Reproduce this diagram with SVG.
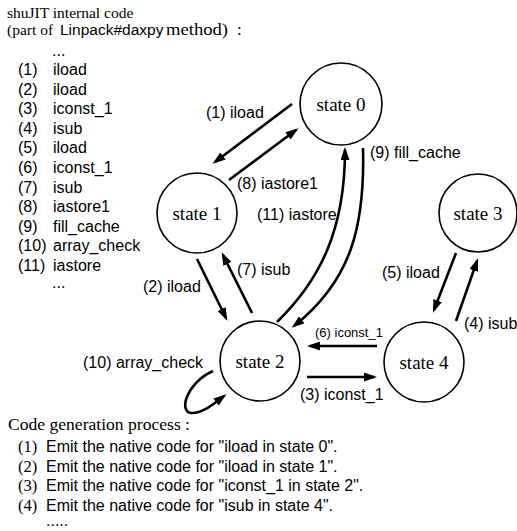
<svg xmlns="http://www.w3.org/2000/svg" width="517" height="531" viewBox="0 0 517 531">
  <style>
    .serif { font-family: "Liberation Serif", "Times New Roman", serif; fill: #000; }
    .sans { font-family: "Liberation Sans", Arial, sans-serif; fill: #000; }
    .lbl { font-size: 16px; }
    .small { font-size: 13px; }
    .node circle { fill: #fff; stroke: #000; stroke-width: 1.6; }
    .node text { font-size: 19px; text-anchor: middle; }
    .edge { fill: none; stroke: #000; stroke-width: 2.6; marker-end: url(#arrow); }
  </style>
  <defs>
    <marker id="arrow" markerUnits="userSpaceOnUse" markerWidth="14" markerHeight="10" refX="10" refY="4.5" orient="auto">
      <path d="M0,0 L13,4.5 L0,9 z" fill="#000"/>
    </marker>
  </defs>

  <rect width="517" height="531" fill="#fff"/>

  <!-- header -->
  <text class="serif" x="7" y="18" font-size="15.5">shuJIT internal code</text>
  <text class="serif" x="7" y="35" font-size="15.5">(part of <tspan class="sans" x="60">Linpack#daxpy</tspan><tspan x="166" font-size="17" textLength="62" lengthAdjust="spacingAndGlyphs">method)</tspan><tspan x="237" font-size="17">:</tspan></text>

  <!-- instruction listing -->
  <g class="sans lbl">
    <text x="52" y="56">...</text>
    <text y="75"><tspan x="18">(1)</tspan><tspan x="53">iload</tspan></text>
    <text y="94.6"><tspan x="18">(2)</tspan><tspan x="53">iload</tspan></text>
    <text y="114.2"><tspan x="18">(3)</tspan><tspan x="53">iconst_1</tspan></text>
    <text y="133.8"><tspan x="18">(4)</tspan><tspan x="53">isub</tspan></text>
    <text y="153.4"><tspan x="18">(5)</tspan><tspan x="53">iload</tspan></text>
    <text y="173"><tspan x="18">(6)</tspan><tspan x="53">iconst_1</tspan></text>
    <text y="192.6"><tspan x="18">(7)</tspan><tspan x="53">isub</tspan></text>
    <text y="212.2"><tspan x="18">(8)</tspan><tspan x="53">iastore1</tspan></text>
    <text y="231.8"><tspan x="18">(9)</tspan><tspan x="53">fill_cache</tspan></text>
    <text y="251.4"><tspan x="18">(10)</tspan><tspan x="53">array_check</tspan></text>
    <text y="271"><tspan x="18">(11)</tspan><tspan x="53">iastore</tspan></text>
    <text x="52" y="288">...</text>
  </g>

  <!-- connectors -->
  <g id="edges">
    <line class="edge" x1="292" y1="104" x2="215" y2="162"/>
    <line class="edge" x1="229" y1="180" x2="296" y2="130"/>
    <line class="edge" x1="197" y1="259" x2="226" y2="318"/>
    <line class="edge" x1="252" y1="313" x2="223" y2="255"/>
    <path class="edge" d="M277,322 C320,280 345,230 345,150"/>
    <path class="edge" d="M363,148 C365,225 352,280 294,326"/>
    <line class="edge" x1="307" y1="377" x2="374" y2="377"/>
    <line class="edge" x1="377" y1="346" x2="310" y2="346"/>
    <line class="edge" x1="456" y1="253" x2="434" y2="310"/>
    <line class="edge" x1="456" y1="321" x2="477" y2="261"/>
    <path class="edge" d="M213,371 C186,383 178,413 192,413 C203,413 212,405 224,396"/>
  </g>

  <!-- edge labels -->
  <g class="sans lbl">
    <text x="206" y="118">(1) iload</text>
    <text x="237" y="189">(8) iastore1</text>
    <text x="257" y="220">(11) iastore</text>
    <text x="370" y="158">(9) fill_cache</text>
    <text x="237" y="275">(7) isub</text>
    <text x="143" y="292">(2) iload</text>
    <text x="382" y="278">(5) iload</text>
    <text x="464" y="329">(4) isub</text>
    <text x="83" y="368">(10) array_check</text>
    <text x="300" y="400">(3) iconst_1</text>
  </g>
  <text class="sans small" x="315" y="337">(6) iconst_1</text>

  <!-- states -->
  <g id="state0" class="node"><circle cx="341" cy="104" r="41"/><text class="serif" x="341" y="111">state 0</text></g>
  <g id="state1" class="node"><circle cx="197" cy="213" r="40"/><text class="serif" x="197" y="220">state 1</text></g>
  <g id="state2" class="node"><circle cx="260" cy="361" r="40"/><text class="serif" x="260" y="368">state 2</text></g>
  <g id="state3" class="node"><circle cx="478" cy="213" r="39"/><text class="serif" x="478" y="220">state 3</text></g>
  <g id="state4" class="node"><circle cx="424" cy="362" r="40"/><text class="serif" x="424" y="369">state 4</text></g>

  <!-- code generation steps -->
  <text class="serif" x="8" y="430" font-size="17" textLength="182" lengthAdjust="spacingAndGlyphs">Code generation process :</text>
  <g class="lbl">
    <text y="452"><tspan class="serif" x="18" font-size="16.5">(1)</tspan><tspan class="sans" x="46">Emit the native code for "iload in state 0".</tspan></text>
    <text y="471.5"><tspan class="serif" x="18" font-size="16.5">(2)</tspan><tspan class="sans" x="46">Emit the native code for "iload in state 1".</tspan></text>
    <text y="491"><tspan class="serif" x="18" font-size="16.5">(3)</tspan><tspan class="sans" x="46">Emit the native code for "iconst_1 in state 2".</tspan></text>
    <text y="510.5"><tspan class="serif" x="18" font-size="16.5">(4)</tspan><tspan class="sans" x="46">Emit the native code for "isub in state 4".</tspan></text>
    <text class="sans" x="46" y="526">.....</text>
  </g>
</svg>
